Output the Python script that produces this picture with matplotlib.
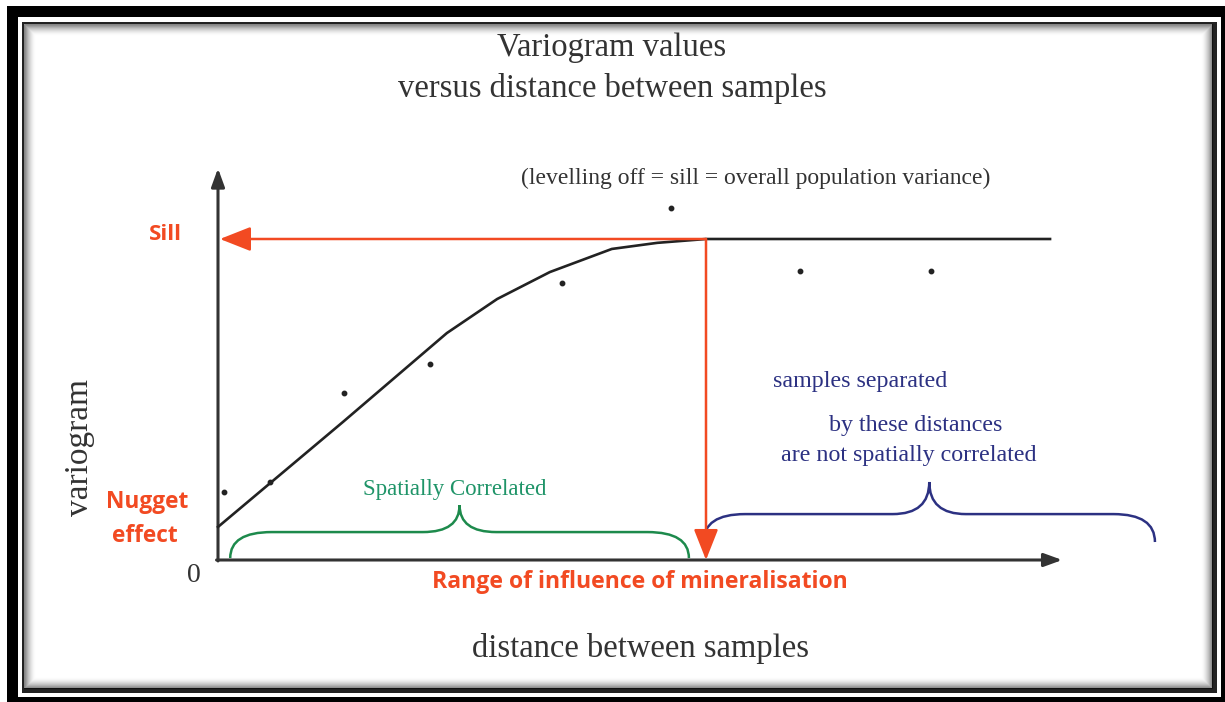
import numpy as np
import matplotlib
matplotlib.use("Agg")
from matplotlib import pyplot as plt
from matplotlib.patches import Rectangle, PathPatch
from matplotlib.path import Path

# fitted variogram model (distance, variogram value); sill = 1
model_dist = [0.0, 2.56, 4.69, 5.72, 6.80, 8.07, 9.00, 10.0, 17.05]
model_gamma = [0.103, 0.43, 0.707, 0.813, 0.897, 0.969, 0.988, 1.0, 1.0]

# experimental variogram points
pts_dist = [0.12, 1.07, 2.58, 4.34, 7.05, 9.28, 11.93, 14.61]
pts_gamma = [0.212, 0.243, 0.520, 0.611, 0.863, 1.097, 0.900, 0.900]

sill = 1.0
range_dist = 10.0
x_axis_end = 17.3
y_axis_end = 1.22

# braces: (start, end) in distance units
green_span = (0.25, 9.65)
blue_span = (9.95, 19.2)

RED = '#f24a22'
GREEN = '#1d8a4c'
NAVY = '#2c3182'
GREY = '#333333'
SERIF = 'Liberation Serif'
SANS = ['Open Sans', 'Liberation Sans']

W, H = 1225, 702
fig = plt.figure(figsize=(W / 100, H / 100), dpi=100)

# pixel axes for frame and text
axp = fig.add_axes([0, 0, 1, 1])
axp.set_xlim(0, W)
axp.set_ylim(H, 0)
axp.axis('off')

axp.add_patch(Rectangle((7, 6), W - 7, H - 6, facecolor='black', edgecolor='none'))
axp.add_patch(Rectangle((18, 17), 1203, 680, facecolor='white', edgecolor='none'))
axp.add_patch(Rectangle((22, 22), 1195, 671, facecolor='#222222', edgecolor='none'))
axp.add_patch(Rectangle((24, 24), 1188, 664, facecolor='white', edgecolor='none'))
for i in range(12):
    axp.add_patch(Rectangle((24 + i, 24 + i), 1188 - 2 * i, 664 - 2 * i, fill=False,
                            edgecolor='black', lw=0.9, alpha=0.45 * (1 - i / 12) ** 2))

# data axes: 48.8 px per distance unit, 321 px per variogram unit, origin at (218, 560)
sx, sy, ox, oy = 48.8, 321.0, 218, 560
ax = fig.add_axes([0, 0, 1, 1])
ax.set_xlim(-ox / sx, (W - ox) / sx)
ax.set_ylim((oy - H) / sy, oy / sy)
ax.patch.set_alpha(0)
ax.axis('off')

# axes with arrows
ax.annotate('', xy=(0, y_axis_end), xytext=(0, -0.003),
            arrowprops=dict(arrowstyle='-|>,head_length=1.1,head_width=0.4', color=GREY, lw=2.2,
                            shrinkA=0, shrinkB=0))
ax.annotate('', xy=(x_axis_end, 0), xytext=(-0.03, 0),
            arrowprops=dict(arrowstyle='-|>,head_length=1.1,head_width=0.4', color=GREY, lw=2.2,
                            shrinkA=0, shrinkB=0))

# model curve and points
ax.plot(model_dist, model_gamma, color='#222222', lw=1.9, zorder=3)
ax.plot(pts_dist, pts_gamma, 'o', color='#222222', ms=3.2, zorder=3)

# sill and range arrows
ax.annotate('', xy=(0.04, sill), xytext=(range_dist, sill),
            arrowprops=dict(arrowstyle='-|>,head_length=1.9,head_width=0.75', color=RED, lw=1.8,
                            shrinkA=0, shrinkB=0), zorder=4)
ax.annotate('', xy=(range_dist, 0.0), xytext=(range_dist, sill),
            arrowprops=dict(arrowstyle='-|>,head_length=1.9,head_width=0.75', color=RED, lw=1.8,
                            shrinkA=0, shrinkB=0), zorder=4)


def brace(x0, x1, y_end, y_level, y_tip, r, w, color):
    xm = (x0 + x1) / 2
    verts = [(x0, y_end), (x0, y_level), (x0 + r, y_level),
             (xm - w, y_level), (xm, y_level), (xm, y_tip),
             (xm, y_level), (xm + w, y_level),
             (x1 - r, y_level), (x1, y_level), (x1, y_end)]
    codes = [Path.MOVETO, Path.CURVE3, Path.CURVE3,
             Path.LINETO, Path.CURVE3, Path.CURVE3,
             Path.CURVE3, Path.CURVE3,
             Path.LINETO, Path.CURVE3, Path.CURVE3]
    ax.add_patch(PathPatch(Path(verts, codes), fill=False, edgecolor=color, lw=1.8))


brace(green_span[0], green_span[1], 0.006, 0.087, 0.171, 0.85, 0.75, GREEN)
brace(blue_span[0], blue_span[1], 0.056, 0.143, 0.243, 0.85, 0.75, NAVY)

# texts (pixel positions)
axp.text(612, 48, 'Variogram values', ha='center', va='center', fontsize=23.5,
         family=SERIF, color=GREY)
axp.text(612, 88, 'versus distance between samples', ha='center', va='center',
         fontsize=23.5, family=SERIF, color=GREY)
axp.text(756, 178, '(levelling off = sill = overall population variance)', ha='center',
         va='center', fontsize=17, family=SERIF, color=GREY)
axp.text(165, 234, 'Sill', ha='center', va='center', fontsize=16, family=SANS,
         weight='bold', color=RED)
axp.text(147, 502, 'Nugget', ha='center', va='center', fontsize=16.3, family=SANS,
         weight='bold', color=RED)
axp.text(145, 536, 'effect', ha='center', va='center', fontsize=16.3, family=SANS,
         weight='bold', color=RED)
axp.text(80, 448, 'variogram', ha='center', va='center', rotation=90, fontsize=24,
         family=SERIF, color=GREY)
axp.text(194, 576, '0', ha='center', va='center', fontsize=20, family=SERIF, color=GREY)
axp.text(640, 582, 'Range of influence of mineralisation', ha='center', va='center',
         fontsize=16.6, family=SANS, weight='bold', color=RED)
axp.text(641, 648, 'distance between samples', ha='center', va='center', fontsize=23.5,
         family=SERIF, color=GREY)
axp.text(455, 490, 'Spatially Correlated', ha='center', va='center', fontsize=16.5,
         family=SERIF, color='#1f9468')
axp.text(860, 381, 'samples separated', ha='center', va='center', fontsize=17.3,
         family=SERIF, color=NAVY)
axp.text(916, 426, 'by these distances', ha='center', va='center', fontsize=17.3,
         family=SERIF, color=NAVY)
axp.text(909, 455, 'are not spatially correlated', ha='center', va='center', fontsize=17.3,
         family=SERIF, color=NAVY)

fig.savefig('out.png', dpi=100)
